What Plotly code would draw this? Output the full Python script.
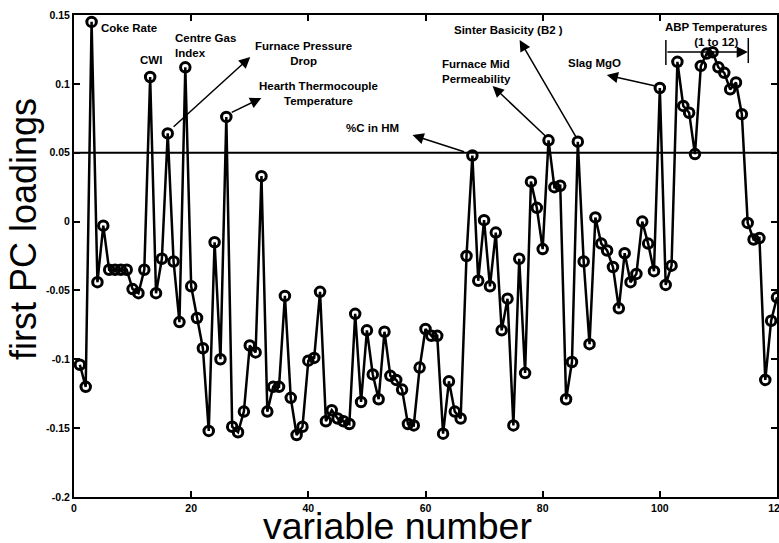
import plotly.graph_objects as go

variables = list(range(1, 121))
loadings = [
    -0.104, -0.120, 0.145, -0.044, -0.003, -0.035, -0.035, -0.035, -0.035, -0.049,
    -0.052, -0.035, 0.105, -0.052, -0.027, 0.064, -0.029, -0.073, 0.112, -0.047,
    -0.070, -0.092, -0.152, -0.015, -0.100, 0.076, -0.149, -0.153, -0.138, -0.090,
    -0.095, 0.033, -0.138, -0.120, -0.120, -0.054, -0.128, -0.155, -0.149, -0.101,
    -0.099, -0.051, -0.145, -0.137, -0.143, -0.145, -0.147, -0.067, -0.131, -0.079,
    -0.111, -0.129, -0.080, -0.112, -0.115, -0.122, -0.147, -0.148, -0.106, -0.078,
    -0.083, -0.083, -0.154, -0.116, -0.138, -0.143, -0.025, 0.048, -0.043, 0.001,
    -0.047, -0.008, -0.079, -0.056, -0.148, -0.027, -0.110, 0.029, 0.010, -0.020,
    0.059, 0.025, 0.026, -0.129, -0.102, 0.058, -0.029, -0.089, 0.003, -0.016,
    -0.021, -0.033, -0.063, -0.023, -0.044, -0.038, 0.000, -0.016, -0.036, 0.097,
    -0.046, -0.032, 0.116, 0.084, 0.079, 0.049, 0.113, 0.122, 0.123, 0.112,
    0.108, 0.096, 0.101, 0.078, -0.001, -0.013, -0.012, -0.115, -0.072, -0.055,
]
threshold = 0.05
x_ticks = [0, 20, 40, 60, 80, 100, 120]
y_ticks = [-0.2, -0.15, -0.1, -0.05, 0, 0.05, 0.1, 0.15]
y_tick_text = ["-0.2", "-0.15", "-0.1", "-0.05", "0", "0.05", "0.1", "0.15"]

# text labels: (text, x, y, xanchor, align)
labels = [
    ("Coke Rate", 4.27, 0.1408, "left", "left"),
    ("CWI", 13.13, 0.1173, "center", "center"),
    ("Centre Gas<br>Index", 16.92, 0.1275, "left", "left"),
    ("Furnace Pressure<br>Drop", 39.15, 0.1224, "center", "center"),
    ("Hearth Thermocouple<br>Temperature", 41.7, 0.0933, "center", "center"),
    ("%C in HM", 50.94, 0.0679, "center", "center"),
    ("Furnace Mid<br>Permeability", 62.39, 0.1093, "left", "left"),
    ("Sinter Basicity (B2 )", 64.44, 0.1391, "left", "left"),
    ("Slag MgO", 83.93, 0.1151, "left", "left"),
    ("ABP Temperatures<br>(1 to 12)", 109.66, 0.1355, "center", "center"),
]
# arrows: (tail_x, tail_y, head_x, head_y)
arrows = [
    (16.75, 0.0679, 30.09, 0.1195),
    (26.67, 0.0788, 31.97, 0.0897),
    (66.84, 0.0504, 57.78, 0.0628),
    (80.68, 0.0613, 71.45, 0.0984),
    (85.81, 0.0606, 76.07, 0.1318),
    (99.32, 0.0984, 90.94, 0.1064),
    (101.03, 0.1231, 115.04, 0.1231),
]
bracket = [(101.03, 0.1318, 0.1137), (115.1, 0.1333, 0.1151)]

fig = go.Figure()
fig.add_trace(go.Scatter(
    x=variables, y=loadings, mode="lines+markers",
    line=dict(color="black", width=2.5),
    marker=dict(symbol="circle-open", size=9.5, color="black", line=dict(width=3, color="black")),
    showlegend=False, cliponaxis=False,
))

shapes = [dict(type="line", xref="paper", yref="y", x0=0, x1=1, y0=threshold, y1=threshold,
               line=dict(color="black", width=2))]
for bx, by0, by1 in bracket:
    shapes.append(dict(type="line", xref="x", yref="y", x0=bx, x1=bx, y0=by0, y1=by1,
                       line=dict(color="black", width=1.5)))

annotations = []
lab_font = dict(family="Liberation Sans, Arial, sans-serif", size=11.5, color="black")
for t, x, y, xa, al in labels:
    annotations.append(dict(text="<b>%s</b>" % t, x=x, y=y, xref="x", yref="y",
                            xanchor=xa, yanchor="middle", align=al, showarrow=False, font=lab_font))
for tx, ty, hx, hy in arrows:
    annotations.append(dict(text="", x=hx, y=hy, ax=tx, ay=ty, xref="x", yref="y",
                            axref="x", ayref="y", showarrow=True, arrowhead=2, arrowsize=1.5,
                            arrowwidth=1.5, arrowcolor="black", standoff=0, startstandoff=0))

annotations.append(dict(text="variable number", xref="paper", yref="paper", x=0.4595, y=-0.06,
                        xanchor="center", yanchor="middle", showarrow=False,
                        font=dict(family="Liberation Sans, Arial, sans-serif", size=37.5, color="black")))
annotations.append(dict(text="first PC loadings", xref="paper", yref="paper", x=-0.0725, y=0.556,
                        xanchor="center", yanchor="middle", textangle=-90, showarrow=False,
                        font=dict(family="Liberation Sans, Arial, sans-serif", size=36, color="black")))

tick_font = dict(family="Liberation Sans, Arial, sans-serif", size=10.5, color="black")
fig.update_layout(
    width=779, height=543, autosize=False,
    margin=dict(l=74, r=2, t=15, b=46, autoexpand=False),
    plot_bgcolor="white", paper_bgcolor="white",
    shapes=shapes, annotations=annotations,
    xaxis=dict(range=[0, 120], tickvals=x_ticks, ticktext=["<b>%d</b>" % v for v in x_ticks],
               ticks="inside", ticklen=6, tickwidth=2, tickcolor="black", automargin=False,
               ticklabeloverflow="allow",
               showline=True, linewidth=2, linecolor="black", mirror="ticks",
               showgrid=False, zeroline=False, tickfont=tick_font),
    yaxis=dict(range=[-0.2, 0.15], tickvals=y_ticks, ticktext=["<b>%s</b>" % s for s in y_tick_text],
               ticks="inside", ticklen=6, tickwidth=2, tickcolor="black", automargin=False,
               showline=True, linewidth=2, linecolor="black", mirror="ticks",
               showgrid=False, zeroline=False, tickfont=tick_font),
)
fig.write_html("out.html", config={"displayModeBar": False},
               post_script="document.body.style.margin='0';document.body.style.padding='0';"
                           "document.body.style.overflow='hidden';")
